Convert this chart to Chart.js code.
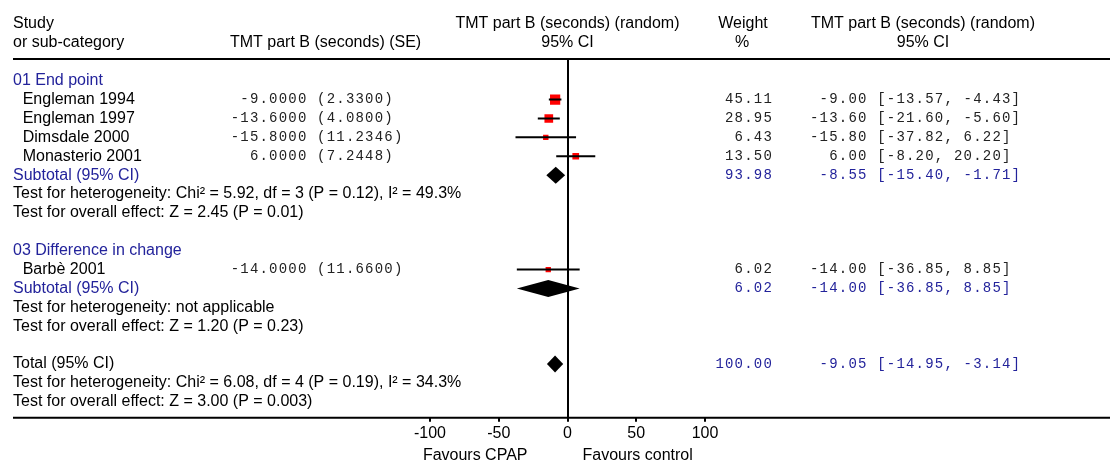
<!DOCTYPE html>
<html lang="en">
<head>
<meta charset="UTF-8" />
<title>TMT part B (seconds) - forest plot</title>
<script src="https://cdn.jsdelivr.net/npm/chart.js@4.4.1/dist/chart.umd.min.js"></script>
<style>
  html, body { margin: 0; padding: 0; background: #fff; }
  canvas { display: block; }
</style>
</head>
<body>
<canvas id="forest" width="1110" height="463"></canvas>
<script>
  // individual studies
  const studyNames = ["Engleman 1994", "Engleman 1997", "Dimsdale 2000", "Monasterio 2001", "Barbè 2001"];
  const studyGroup = [0, 0, 0, 0, 1];
  const studyMean = [-9.0, -13.6, -15.8, 6.0, -14.0];
  const studySE = [2.33, 4.08, 11.2346, 7.2448, 11.66];
  const studyLow = [-13.57, -21.60, -37.82, -8.20, -36.85];
  const studyHigh = [-4.43, -5.60, 6.22, 20.20, 8.85];
  const studyWeight = [45.11, 28.95, 6.43, 13.50, 6.02];

  // subgroups
  const groupNames = ["01 End point", "03 Difference in change"];
  const groupMean = [-8.55, -14.00];
  const groupLow = [-15.40, -36.85];
  const groupHigh = [-1.71, 8.85];
  const groupWeight = [93.98, 6.02];
  const groupHet = [
    "Test for heterogeneity: Chi² = 5.92, df = 3 (P = 0.12), I² = 49.3%",
    "Test for heterogeneity: not applicable"
  ];
  const groupEffect = [
    "Test for overall effect: Z = 2.45 (P = 0.01)",
    "Test for overall effect: Z = 1.20 (P = 0.23)"
  ];

  // overall
  const totalMean = [-9.05];
  const totalLow = [-14.95];
  const totalHigh = [-3.14];
  const totalWeight = [100.00];
  const totalHet = "Test for heterogeneity: Chi² = 6.08, df = 4 (P = 0.19), I² = 34.3%";
  const totalEffect = "Test for overall effect: Z = 3.00 (P = 0.003)";

  const xTicks = [-100, -50, 0, 50, 100];

  // work out which row each line of the table goes on
  let row = 1;
  const studyRow = [], groupRow = [], subRow = [];
  groupNames.forEach((g, gi) => {
    groupRow[gi] = row++;
    studyNames.forEach((s, i) => { if (studyGroup[i] === gi) studyRow[i] = row++; });
    subRow[gi] = row++;
    row += 3;
  });
  const totalRow = row;

  const SANS = '"Liberation Sans", Arial, sans-serif';
  const BLUE = "#23239b";

  function mono(ctx, str, x, y, color) {
    ctx.save();
    ctx.font = '14px "Liberation Mono", monospace';
    ctx.fillStyle = color;
    ctx.textAlign = "left";
    ctx.textBaseline = "middle";
    for (let i = 0; i < str.length; i++) ctx.fillText(str[i], x + i * 9.6, y);
    ctx.restore();
  }
  function sans(ctx, str, x, y, color, align) {
    ctx.save();
    ctx.font = "16px " + SANS;
    ctx.fillStyle = color;
    ctx.textAlign = align || "left";
    ctx.textBaseline = "middle";
    ctx.fillText(str, x, y);
    ctx.restore();
  }
  const pad = (s, n) => " ".repeat(Math.max(0, n - s.length)) + s;
  const ciText = (m, lo, hi) => pad(m.toFixed(2), 6) + " [" + lo.toFixed(2) + ", " + hi.toFixed(2) + "]";

  const tablePlugin = {
    id: "table",
    beforeDatasetsDraw(chart) {
      const { ctx, scales: { x, y } } = chart;
      // diamonds for pooled estimates
      const diamonds = [];
      groupNames.forEach((g, gi) => diamonds.push([groupLow[gi], groupMean[gi], groupHigh[gi], subRow[gi]]));
      diamonds.push([totalLow[0], totalMean[0], totalHigh[0], totalRow]);
      ctx.save();
      ctx.fillStyle = "#000";
      diamonds.forEach(([lo, m, hi, r]) => {
        const py = y.getPixelForValue(r);
        ctx.beginPath();
        ctx.moveTo(x.getPixelForValue(lo), py);
        ctx.lineTo(x.getPixelForValue(m), py - 8.5);
        ctx.lineTo(x.getPixelForValue(hi), py);
        ctx.lineTo(x.getPixelForValue(m), py + 8.5);
        ctx.closePath();
        ctx.fill();
      });
      ctx.restore();
    },
    afterDraw(chart) {
      const { ctx, chartArea, scales: { x, y } } = chart;
      const x0 = x.getPixelForValue(0);
      const L = 13, R = 1110;
      // rules
      ctx.save();
      ctx.strokeStyle = "#000";
      ctx.lineWidth = 2;
      ctx.beginPath();
      ctx.moveTo(L, chartArea.top); ctx.lineTo(R, chartArea.top);
      ctx.moveTo(L, chartArea.bottom); ctx.lineTo(R, chartArea.bottom);
      ctx.stroke();
      ctx.restore();

      // headers
      const h1 = y.getPixelForValue(-2), h2 = y.getPixelForValue(-1);
      sans(ctx, "Study", L, h1, "#000");
      sans(ctx, "or sub-category", L, h2, "#000");
      sans(ctx, "TMT part B (seconds) (SE)", 230, h2, "#000");
      sans(ctx, "TMT part B (seconds) (random)", x0, h1, "#000", "center");
      sans(ctx, "95% CI", x0, h2, "#000", "center");
      sans(ctx, "Weight", 743, h1, "#000", "center");
      sans(ctx, "%", 742, h2, "#000", "center");
      sans(ctx, "TMT part B (seconds) (random)", 923, h1, "#000", "center");
      sans(ctx, "95% CI", 923, h2, "#000", "center");

      // subgroup blocks
      groupNames.forEach((g, gi) => {
        sans(ctx, g, L, y.getPixelForValue(groupRow[gi]), BLUE);
        const sy = y.getPixelForValue(subRow[gi]);
        sans(ctx, "Subtotal (95% CI)", L, sy, BLUE);
        mono(ctx, pad(groupWeight[gi].toFixed(2), 6), 715.4, sy, BLUE);
        mono(ctx, ciText(groupMean[gi], groupLow[gi], groupHigh[gi]), 810, sy, BLUE);
        sans(ctx, groupHet[gi], L, y.getPixelForValue(subRow[gi] + 1), "#000");
        sans(ctx, groupEffect[gi], L, y.getPixelForValue(subRow[gi] + 2), "#000");
      });
      studyNames.forEach((s, i) => {
        const py = y.getPixelForValue(studyRow[i]);
        sans(ctx, s, 22.7, py, "#000");
        mono(ctx, pad(studyMean[i].toFixed(4), 8) + " (" + studySE[i].toFixed(4) + ")", 230.7, py, "#222");
        mono(ctx, pad(studyWeight[i].toFixed(2), 6), 715.4, py, "#222");
        mono(ctx, ciText(studyMean[i], studyLow[i], studyHigh[i]), 810, py, "#222");
      });

      // total block
      const ty = y.getPixelForValue(totalRow);
      sans(ctx, "Total (95% CI)", L, ty, "#000");
      mono(ctx, pad(totalWeight[0].toFixed(2), 6), 715.4, ty, BLUE);
      mono(ctx, ciText(totalMean[0], totalLow[0], totalHigh[0]), 810, ty, BLUE);
      sans(ctx, totalHet, L, y.getPixelForValue(totalRow + 1), "#000");
      sans(ctx, totalEffect, L, y.getPixelForValue(totalRow + 2), "#000");

      // favours labels
      sans(ctx, "Favours CPAP", x0 - 40, 456, "#000", "right");
      sans(ctx, "Favours control", x0 + 15, 456, "#000", "left");
    }
  };

  const ciSets = studyNames.map((s, i) => ({
    type: "line",
    data: [{ x: studyLow[i], y: studyRow[i] }, { x: studyHigh[i], y: studyRow[i] }],
    borderColor: "#000",
    borderWidth: 2,
    pointRadius: 0,
    order: 1
  }));

  const squareSet = {
    type: "scatter",
    data: studyNames.map((s, i) => ({ x: studyMean[i], y: studyRow[i] })),
    pointStyle: "rect",
    pointRadius: studyWeight.map(w => (2.5 + 1.15 * Math.sqrt(w)) / Math.SQRT2),
    backgroundColor: "#ff0000",
    borderWidth: 0,
    order: 2
  };

  new Chart(document.getElementById("forest"), {
    type: "scatter",
    data: { datasets: [...ciSets, squareSet] },
    plugins: [tablePlugin],
    options: {
      responsive: false,
      devicePixelRatio: 1,
      animation: false,
      layout: { padding: { top: 59, left: 430, right: 405, bottom: 18 } },
      plugins: { legend: { display: false }, tooltip: { enabled: false } },
      scales: {
        x: {
          type: "linear",
          min: -100,
          max: 100,
          afterBuildTicks: (s) => { s.ticks = xTicks.map(v => ({ value: v })); },
          border: { display: false },
          grid: {
            drawOnChartArea: true,
            color: (c) => (c.tick && c.tick.value === 0 ? "#000" : "rgba(0,0,0,0)"),
            lineWidth: 2,
            tickColor: "#000",
            tickLength: 4
          },
          ticks: { color: "#000", font: { family: SANS, size: 16 }, padding: 2, maxRotation: 0 }
        },
        y: {
          type: "linear",
          display: false,
          reverse: true,
          min: -0.15,
          max: 18.85
        }
      }
    }
  });
</script>
</body>
</html>
